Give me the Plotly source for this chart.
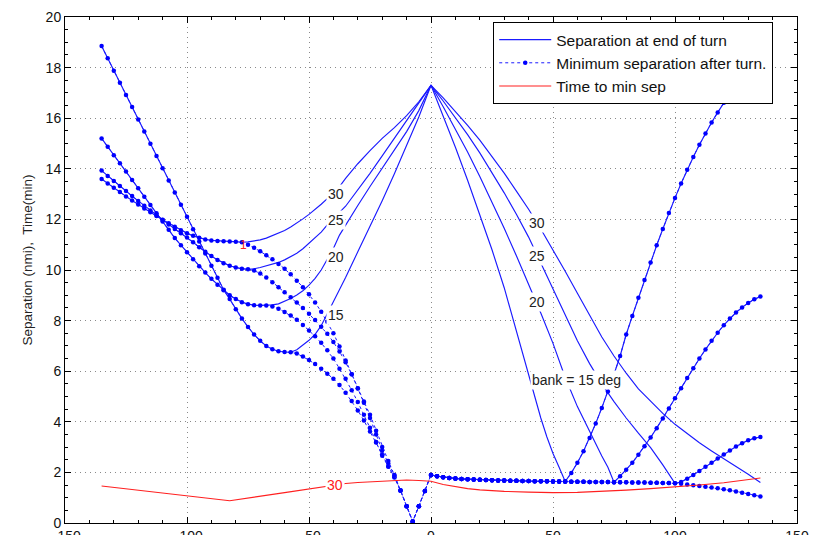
import plotly.graph_objects as go

# ---------------- data ----------------
# common x grid of the sampled curves (2.5 step, -135 .. 135)
X_GRID = [-135 + 2.5 * i for i in range(109)]
BANKS = [15, 20, 25, 30]

# left branch (x = -135 .. min point) - shared by both blue series
LEFT15 = [18.85, 18.37, 17.88, 17.40, 16.92, 16.44, 15.95, 15.47, 14.99, 14.51, 14.02, 13.54,
          13.06, 12.58, 12.10, 11.61, 11.13, 10.65, 10.17, 9.69, 9.22, 8.85, 8.45, 8.08, 7.75,
          7.45, 7.2, 7.0, 6.87, 6.79, 6.76, 6.75]
LEFT20 = [15.2, 14.87, 14.54, 14.22, 13.89, 13.56, 13.23, 12.9, 12.57, 12.24, 11.92, 11.59, 11.26,
          10.98, 10.7, 10.42, 10.15, 9.9, 9.65, 9.42, 9.2, 9.0, 8.85, 8.73, 8.65, 8.61, 8.6, 8.6]
LEFT25 = [13.93, 13.72, 13.52, 13.32, 13.12, 12.92, 12.73, 12.54, 12.35, 12.16, 11.98, 11.8, 11.62,
          11.45, 11.28, 11.1, 10.9, 10.72, 10.55, 10.4, 10.27, 10.17, 10.1, 10.05, 10.03]
LEFT30 = [13.6, 13.42, 13.25, 13.08, 12.91, 12.75, 12.59, 12.43, 12.28, 12.13, 11.99, 11.85, 11.71,
          11.57, 11.45, 11.35, 11.27, 11.21, 11.17, 11.15, 11.14, 11.13, 11.12, 11.1]

# minimum separation: drop from min point down to x = -15
DROP15 = [6.70, 6.58, 6.44, 6.28, 6.10, 5.90, 5.70, 5.45, 5.15, 4.82, 4.45, 4.05, 3.62, 3.18,
          2.72, 2.24, 1.80]
DROP20 = [8.56, 8.47, 8.34, 8.2, 8.03, 7.83, 7.61, 7.38, 7.12, 6.83, 6.5, 6.1, 5.7, 5.25, 4.78,
          4.28, 3.76, 3.2, 2.66, 2.22, 1.82]
DROP25 = [9.98, 9.86, 9.7, 9.52, 9.32, 9.12, 8.92, 8.72, 8.5, 8.27, 8.02, 7.76, 7.48, 7.15, 6.78,
          6.35, 5.88, 5.32, 4.75, 4.15, 3.5, 2.88, 2.35, 1.88]
DROP30 = [11.0, 10.88, 10.74, 10.58, 10.42, 10.24, 10.05, 9.83, 9.58, 9.32, 9.04, 8.72, 8.35, 7.95,
          7.5, 6.98, 6.42, 5.88, 5.33, 4.8, 4.28, 3.65, 3.0, 2.45, 1.9]
# x = -12.5 .. 0 (common to all banks)
BOTTOM = [1.28, 0.66, 0.06, 0.66, 1.26, 1.9]
# x = 2.5 .. 100 (common flat part)
FLAT = [1.85, 1.81, 1.78, 1.76, 1.74, 1.73, 1.72, 1.71, 1.7, 1.69, 1.68, 1.68, 1.67, 1.67, 1.66,
        1.66, 1.65, 1.65, 1.65, 1.64, 1.64, 1.64, 1.63, 1.63, 1.63, 1.62, 1.62, 1.62, 1.62, 1.61,
        1.61, 1.61, 1.6, 1.6, 1.6, 1.59, 1.59, 1.58, 1.58, 1.57]
FLAT_LEN = {15: 22, 20: 30, 25: 40, 30: 40}
# right branch after the minimum (shared by both blue series, except bank 30)
RISE15 = [1.98, 2.38, 2.84, 3.36, 3.93, 4.55, 5.2, 5.88, 6.6, 7.45, 8.18, 8.9, 9.6, 10.3, 10.98,
          11.62, 12.25, 12.85, 13.42, 13.96, 14.47, 14.95, 15.4, 15.83, 16.23, 16.61, 16.98,
          17.34, 17.68]
RISE20 = [1.85, 2.1, 2.38, 2.7, 3.03, 3.38, 3.75, 4.13, 4.53, 4.93, 5.33, 5.73, 6.12, 6.5, 6.86,
          7.2, 7.52, 7.82, 8.08, 8.32, 8.52, 8.7, 8.84, 8.95]
RISE25 = [1.62, 1.75, 1.9, 2.06, 2.22, 2.38, 2.55, 2.71, 2.87, 3.02, 3.15, 3.27, 3.35, 3.4]
TAIL30 = [1.55, 1.52, 1.49, 1.46, 1.43, 1.4, 1.37, 1.33, 1.29, 1.25, 1.2, 1.15, 1.1, 1.05]

# separation at end of turn: climb from left minimum to apex
CLIMB15_X = [-55, -52.5, -50, -47.5, -45, -42.5, -40, -35, -30, -25, -20, -15, -10, -5, 0]
CLIMB15_Y = [6.85, 7.02, 7.22, 7.46, 7.8, 8.27, 8.73, 9.7, 10.72, 11.72, 12.74, 13.8, 14.9, 16.05, 17.3]
CLIMB20_X = [-65, -62.5, -60, -57.5, -55, -52.5, -50, -47.5, -45, -42.5, -40, -37.5, -35, -30, -25,
             -20, -15, -10, -5, 0]
CLIMB20_Y = [8.62, 8.66, 8.75, 8.87, 9.01, 9.18, 9.4, 9.67, 10.0, 10.4, 10.85, 11.38, 11.78, 12.55,
             13.3, 14.03, 14.75, 15.47, 16.3, 17.3]
CLIMB25_X = [-72.5, -70, -67.5, -65, -62.5, -60, -57.5, -55, -52.5, -50, -47.5, -45, -42.5, -40,
             -37.5, -35, -30, -25, -20, -15, -10, -5, 0]
CLIMB25_Y = [10.05, 10.1, 10.16, 10.23, 10.3, 10.4, 10.52, 10.66, 10.84, 11.05, 11.27, 11.5, 11.78,
             12.05, 12.28, 12.52, 13.15, 13.82, 14.51, 15.2, 15.92, 16.62, 17.3]
CLIMB30_X = [-75, -72.5, -70, -67.5, -65, -62.5, -60, -57.5, -55, -52.5, -50, -47.5, -45, -42.5,
             -40, -37.5, -35, -30, -25, -20, -15, -10, -5, 0]
CLIMB30_Y = [11.11, 11.14, 11.19, 11.26, 11.35, 11.45, 11.56, 11.7, 11.85, 12.02, 12.2, 12.39, 12.6,
             12.82, 13.05, 13.3, 13.62, 14.2, 14.72, 15.2, 15.63, 16.1, 16.65, 17.3]
# separation at end of turn: descent from apex to right minimum
DESC15_X = [5, 10, 15, 20, 25, 30, 35, 37.5, 40, 42.5, 45, 47.5, 50, 52.5, 55]
DESC15_Y = [16.1, 14.85, 13.55, 12.2, 10.8, 9.3, 7.55, 6.7, 5.85, 5.0, 4.15, 3.4, 2.75, 2.2, 1.64]
DESC20_X = [5, 10, 15, 20, 25, 30, 35, 40, 45, 50, 55, 60, 65, 70, 72.5, 75]
DESC20_Y = [16.45, 15.57, 14.66, 13.7, 12.7, 11.65, 10.56, 9.45, 8.3, 7.1, 5.75, 4.6, 3.6, 2.65,
            2.2, 1.61]
DESC25_X = [5, 10, 15, 20, 25, 30, 35, 40, 45, 50, 55, 60, 65, 70, 75, 80, 85, 90, 95, 97.5, 100]
DESC25_Y = [16.68, 16.03, 15.35, 14.63, 13.86, 13.05, 12.2, 11.3, 10.28, 9.25, 8.2, 7.2, 6.3, 5.5,
            4.8, 4.15, 3.55, 2.98, 2.3, 1.95, 1.57]
DESC30_X = [5, 10, 15, 20, 25, 30, 35, 40, 45, 50, 55, 60, 65, 70, 75, 80, 85, 90, 95, 100, 105,
            110, 115, 120, 125, 130, 135]
DESC30_Y = [16.8, 16.27, 15.72, 15.13, 14.5, 13.83, 13.12, 12.4, 11.62, 10.8, 9.95, 9.08, 8.2, 7.35,
            6.6, 5.92, 5.3, 4.8, 4.33, 3.9, 3.52, 3.17, 2.85, 2.55, 2.25, 1.93, 1.6]

# time to minimum separation (bank 30)
TIME_X = [-135, -82.5, -60, -39, -35, -30, -25, -20, -15, -10, -5, 0, 5, 10, 15, 20, 25, 30, 40,
          50, 60, 70, 80, 90, 100, 110, 120, 130, 135]
TIME_Y = [1.46, 0.88, 1.2, 1.5, 1.56, 1.6, 1.63, 1.66, 1.69, 1.7, 1.68, 1.65, 1.52, 1.43, 1.36,
          1.31, 1.27, 1.25, 1.22, 1.2, 1.21, 1.25, 1.3, 1.36, 1.42, 1.5, 1.59, 1.7, 1.78]

LEFT_LABELS = ["30", "25", "20", "15"]
LEFT_LABEL_Y = [13.0, 11.98, 10.51, 8.22]
RIGHT_LABELS = ["30", "25", "20", "bank = 15 deg"]
RIGHT_LABEL_X = [43.5, 43.5, 43.5, 59.8]
RIGHT_LABEL_Y = [11.86, 10.55, 8.72, 5.65]

LEFT = {15: LEFT15, 20: LEFT20, 25: LEFT25, 30: LEFT30}
DROP = {15: DROP15, 20: DROP20, 25: DROP25, 30: DROP30}
AFTER = {15: RISE15, 20: RISE20, 25: RISE25, 30: TAIL30}
CLIMB = {15: (CLIMB15_X, CLIMB15_Y), 20: (CLIMB20_X, CLIMB20_Y),
         25: (CLIMB25_X, CLIMB25_Y), 30: (CLIMB30_X, CLIMB30_Y)}
DESC = {15: (DESC15_X, DESC15_Y), 20: (DESC20_X, DESC20_Y),
        25: (DESC25_X, DESC25_Y), 30: (DESC30_X, DESC30_Y)}

BLUE = "#1a1aff"
FONT = "Liberation Sans, Arial, sans-serif"

fig = go.Figure()

# solid: separation at end of turn
for k, b in enumerate(BANKS):
    lx = X_GRID[:len(LEFT[b])]
    cx, cy = CLIMB[b]
    dx, dy = DESC[b]
    xs = lx + cx + dx
    ys = LEFT[b] + cy + dy
    if b != 30:
        start = len(LEFT[b]) + len(DROP[b]) + len(BOTTOM) + FLAT_LEN[b]
        xs = xs + X_GRID[start:start + len(AFTER[b])]
        ys = ys + AFTER[b]
    fig.add_trace(go.Scatter(x=xs, y=ys, mode="lines", line=dict(color=BLUE, width=1.15),
                             name="Separation at end of turn", showlegend=(k == 0),
                             hoverinfo="skip"))

# dotted with dots: minimum separation after turn
for k, b in enumerate(BANKS):
    ys = LEFT[b] + DROP[b] + BOTTOM + FLAT[:FLAT_LEN[b]] + AFTER[b]
    xs = X_GRID[:len(ys)]
    fig.add_trace(go.Scatter(x=xs, y=ys, mode="lines+markers",
                             line=dict(color=BLUE, width=1, dash="dot"),
                             marker=dict(color="#0000ff", size=4.5),
                             name="Minimum separation after turn.", showlegend=(k == 0),
                             hoverinfo="skip"))

fig.add_trace(go.Scatter(x=TIME_X, y=TIME_Y, mode="lines", line=dict(color="#ff2020", width=1.1),
                         name="Time to min sep", hoverinfo="skip"))

ann = []
for t, y in zip(LEFT_LABELS, LEFT_LABEL_Y):
    ann.append(dict(x=-38.9, y=y, xref="x", yref="y", text=t, showarrow=False,
                    font=dict(family=FONT, size=14, color="#222"), bgcolor="white", borderpad=1))
for t, x, y in zip(RIGHT_LABELS, RIGHT_LABEL_X, RIGHT_LABEL_Y):
    ann.append(dict(x=x, y=y, xref="x", yref="y", text=t, showarrow=False,
                    font=dict(family=FONT, size=14, color="#222"), bgcolor="white", borderpad=1))
ann.append(dict(x=-39.3, y=1.5, xref="x", yref="y", text="30", showarrow=False,
                font=dict(family=FONT, size=14, color="#ff2020"), bgcolor="white", borderpad=1))
ann.append(dict(x=-77, y=11.0, xref="x", yref="y", text="1", showarrow=False,
                font=dict(family=FONT, size=12, color="#ff2020")))
ann.append(dict(x=-0.051, y=0.52, xref="paper", yref="paper", text="Separation (nmi),  Time(min)",
                textangle=-90, showarrow=False, xanchor="center", yanchor="middle",
                font=dict(family=FONT, size=13.5, color="#222")))

axis_common = dict(showline=True, linecolor="black", linewidth=1, mirror="ticks",
                   ticks="inside", ticklen=6, tickcolor="black", showgrid=True,
                   gridcolor="#8a8a8a", griddash="1px,4px", gridwidth=1, zeroline=False,
                   tickfont=dict(family=FONT, size=14, color="#111"), automargin=False)

fig.update_layout(
    width=823, height=535,
    margin=dict(l=65, r=26, t=17, b=12, autoexpand=False),
    paper_bgcolor="white", plot_bgcolor="white",
    xaxis=dict(range=[-150, 150], tickvals=[-150, -100, -50, 0, 50, 100, 150],
               minor=dict(ticks="inside", ticklen=3, dtick=10, tickcolor="black", showgrid=False),
               **axis_common),
    yaxis=dict(range=[0, 20], tickvals=list(range(0, 21, 2)),
               minor=dict(ticks="inside", ticklen=3, dtick=0.5, tickcolor="black", showgrid=False),
               **axis_common),
    legend=dict(x=0.585, y=0.99, xanchor="left", yanchor="top", bgcolor="white",
                bordercolor="black", borderwidth=1, font=dict(family=FONT, size=15.5, color="#111"),
                tracegroupgap=0, itemwidth=52),
    annotations=ann,
    showlegend=True,
)

fig.write_html("out.html")
